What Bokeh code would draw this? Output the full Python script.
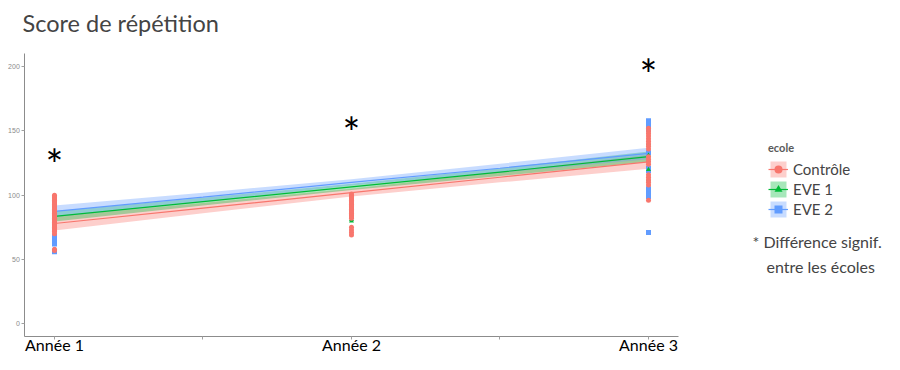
from bokeh.plotting import figure
from bokeh.models import Legend, LegendItem, FixedTicker, Label, Range1d
from bokeh.core.properties import value
from bokeh.embed import file_html
from bokeh.resources import INLINE

# ---------------- data ----------------
years = [1, 2, 3]
year_labels = ["Année 1", "Année 2", "Année 3"]
schools = ["Contrôle", "EVE 1", "EVE 2"]
colors = ["#F8766D", "#00BA38", "#619CFF"]
markers = ["circle", "triangle", "square"]

# fitted line and confidence band (read at Année 1, 1.5, 2, 2.5, 3)
fit_x = [1, 1.5, 2, 2.5, 3]
ctrl_fit = [78, 90, 102, 114, 126]
ctrl_lo = [72.5, 86, 99, 110, 120.5]
ctrl_hi = [83.5, 94, 105, 118, 131.5]
eve1_fit = [83.5, 95, 106.5, 118, 130]
eve1_lo = [79.5, 92, 104, 115, 126]
eve1_hi = [87.5, 98, 109, 121, 134]
eve2_fit = [87.5, 98.5, 110, 121, 132.5]
eve2_lo = [83, 95, 107.5, 117.5, 128]
eve2_hi = [92, 102, 112.5, 124.5, 137]

# individual scores per year
ctrl_y1 = [100, 99, 98, 97, 96, 95, 94, 93, 92, 91, 90, 89, 88, 87, 86, 85, 84, 83,
           82, 81, 80, 79, 78, 77, 76, 75, 74, 73, 72, 70, 58, 57]
eve1_y1 = [92, 88, 85, 82, 80, 78, 75]
eve2_y1 = [98, 95, 91, 89, 86, 84, 81, 77, 73, 68, 66, 64, 62, 56]

ctrl_y2 = [101, 100, 99, 98, 97, 96, 95, 94, 93, 92, 91, 90, 89, 88, 87, 86, 85, 84,
           83, 82, 75, 73, 71, 69]
eve1_y2 = [95, 90, 85, 81, 80]
eve2_y2 = [97, 92, 88]

ctrl_y3 = [152, 150, 148, 146, 144, 142, 140, 138, 136, 130, 128, 126, 124, 116, 114,
           112, 110, 108, 96]
eve1_y3 = [140, 131, 127, 120, 112]
eve2_y3 = [158, 157, 155, 153, 151, 133, 121, 119, 105, 103, 101, 99, 71]

# significant differences (asterisk height)
sig_y = [131, 156.5, 201.5]

y_ticks = [0, 50, 100, 150, 200]
x_ticks = [1, 1.5, 2, 2.5, 3]
panel_x = (0.9, 3.1)
panel_y = (-10, 210)

# ---------------- figure ----------------
# the frame covers the whole canvas; the axes are drawn at fixed locations
p = figure(width=884, height=354, output_backend="svg", toolbar_location=None,
           x_range=Range1d(0.8182, 3.7946), y_range=Range1d(-23.88, 251.46),
           min_border=0, min_border_left=0, min_border_right=0,
           min_border_top=0, min_border_bottom=0)
p.outline_line_color = None
p.xgrid.visible = False
p.ygrid.visible = False
p.background_fill_color = "white"
p.border_fill_color = "white"

fits = [(ctrl_fit, ctrl_lo, ctrl_hi), (eve1_fit, eve1_lo, eve1_hi), (eve2_fit, eve2_lo, eve2_hi)]
pts = [(ctrl_y1, ctrl_y2, ctrl_y3), (eve1_y1, eve1_y2, eve1_y3), (eve2_y1, eve2_y2, eve2_y3)]

bands, lines = [], []
for i in range(3):
    fit, lo, hi = fits[i]
    bands.append(p.varea(x=fit_x, y1=lo, y2=hi, fill_color=colors[i], fill_alpha=0.35))
for i in range(3):
    fit, lo, hi = fits[i]
    lines.append(p.line(x=fit_x, y=fit, line_color=colors[i], line_width=1.2))

scat = [None, None, None]
for i in [2, 1, 0]:
    xs, ys = [], []
    for k, yr in enumerate(years):
        xs += [yr] * len(pts[i][k])
        ys += pts[i][k]
    scat[i] = p.scatter(x=xs, y=ys, marker=markers[i], size=5, fill_color=colors[i],
                        line_color=colors[i], line_width=0)

p.text(x=years, y=sig_y, text=["*"] * 3, text_font=value("Lato"), text_font_size="42px",
       text_align="center", text_baseline="middle", text_color="black", y_offset=9)

# axes
xa = p.xaxis[0]
xa.fixed_location = panel_y[0]
xa.bounds = panel_x
xa.ticker = FixedTicker(ticks=x_ticks)
xa.major_label_overrides = {1: year_labels[0], 1.5: "", 2: year_labels[1], 2.5: "", 3: year_labels[2]}
xa.minor_tick_line_color = None
xa.major_tick_in = 0
xa.major_tick_out = 3
xa.major_label_standoff = -5
xa.major_label_text_font = "Lato"
xa.major_label_text_font_size = "16px"
xa.major_label_text_color = "black"

ya = p.yaxis[0]
ya.fixed_location = panel_x[0]
ya.bounds = panel_y
ya.ticker = FixedTicker(ticks=y_ticks)
ya.minor_tick_line_color = None
ya.major_tick_in = 0
ya.major_tick_out = 3
ya.major_label_standoff = 2
ya.major_label_text_font_size = "7px"
ya.major_label_text_color = "#8a8a8a"

for ax in (xa, ya):
    ax.axis_line_color = "#8c8c8c"
    ax.major_tick_line_color = "#a0a0a0"

# legend
items = [LegendItem(label=schools[i], renderers=[bands[i], lines[i], scat[i]]) for i in range(3)]
leg = Legend(items=items, title="ecole", location=(768, 135))
leg.title_text_font_style = "bold"
leg.title_text_font_size = "11px"
leg.title_text_color = "#595959"
leg.title_text_font = "Lato"
leg.title_standoff = 5
leg.label_text_font = "Lato"
leg.label_text_font_size = "15px"
leg.glyph_width = 20
leg.glyph_height = 20
leg.label_height = 20
leg.label_standoff = 5
leg.spacing = 0
leg.padding = 0
leg.margin = 0
leg.border_line_alpha = 0
leg.background_fill_alpha = 0
p.add_layout(leg)

# title and note
p.add_layout(Label(x=22, y=332, x_units="screen", y_units="screen", text="Score de répétition",
                   text_font="Lato", text_font_size="23.5px", text_baseline="middle"))
p.add_layout(Label(x=752, y=113, x_units="screen", y_units="screen", text="* Différence signif.",
                   text_font="Lato", text_font_size="16px", text_baseline="middle"))
p.add_layout(Label(x=766, y=88, x_units="screen", y_units="screen", text="entre les écoles",
                   text_font="Lato", text_font_size="16px", text_baseline="middle"))

open("out.html", "w").write(file_html(p, INLINE))
